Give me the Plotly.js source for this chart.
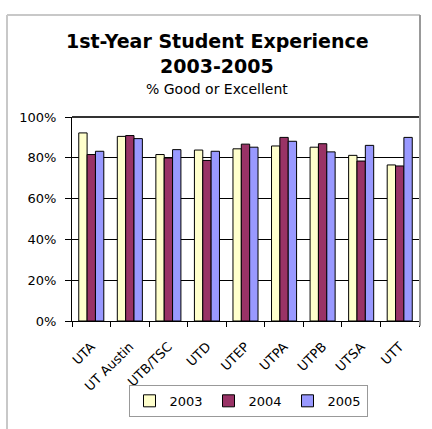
<!DOCTYPE html>
<html>
<head>
<meta charset="utf-8">
<script src="https://cdn.plot.ly/plotly-3.0.1.min.js"></script>
<style>
html,body{margin:0;padding:0;background:#fff;overflow:hidden;}
#chart{width:432px;height:429px;}
</style>
</head>
<body>
<div id="chart"></div>
<script>
const categories = ["UTA","UT Austin","UTB/TSC","UTD","UTEP","UTPA","UTPB","UTSA","UTT"];
const years = ["2003","2004","2005"];
const values2003 = [0.922,0.905,0.816,0.838,0.844,0.858,0.852,0.812,0.765];
const values2004 = [0.816,0.909,0.799,0.787,0.867,0.900,0.869,0.784,0.760];
const values2005 = [0.832,0.894,0.840,0.832,0.852,0.881,0.829,0.861,0.900];
const yTickVals = [0,0.2,0.4,0.6,0.8,1.0];
const yTickText = ["0%","20%","40%","60%","80%","100%"];
const colors = ["#FFFFCC","#993366","#9999FF"];

const font = "DejaVu Sans, Verdana, sans-serif";
const series = [values2003, values2004, values2005];
const traces = series.map((vals, i) => ({
  type: "bar",
  name: years[i],
  x: categories,
  y: vals,
  marker: {color: colors[i], line: {color: "#000", width: 1}},
  hoverinfo: "x+y"
}));

const L = 72, R = 13, T = 117, B = 98;
const W = 432 - L - R, H = 429 - T - B;
const px = x => (x - L) / W;
const py = y => (429 - B - y) / H;

const layout = {
  width: 432, height: 429,
  margin: {l: L, r: R, t: T, b: B, pad: 0},
  paper_bgcolor: "#fff",
  plot_bgcolor: "#fff",
  font: {family: font, size: 12, color: "#000"},
  bargap: 0.35,
  bargroupgap: 0,
  showlegend: true,
  legend: {
    orientation: "h",
    x: px(248), xanchor: "center",
    y: py(398), yanchor: "top",
    bordercolor: "#999", borderwidth: 1,
    font: {family: font, size: 13},
    traceorder: "normal",
    itemwidth: 30,
    entrywidth: 34
  },
  xaxis: {
    type: "category",
    tickangle: -45,
    tickson: "boundaries",
    ticks: "outside", ticklen: 5, tickcolor: "#000",
    showline: true, linecolor: "#000", linewidth: 1,
    showgrid: false,
    tickfont: {family: font, size: 13},
    ticklabelstandoff: 12
  },
  yaxis: {
    range: [0, 1],
    tickvals: yTickVals, ticktext: yTickText,
    ticks: "outside", ticklen: 6, tickcolor: "#000",
    showline: true, linecolor: "#000", linewidth: 1,
    showgrid: true, gridcolor: "#000", gridwidth: 1,
    zeroline: false,
    tickfont: {family: font, size: 13},
    ticklabelstandoff: 6
  },
  shapes: [
    {type: "line", xref: "paper", yref: "paper", x0: 0, x1: 1, y0: 1, y1: 1, line: {color: "#333", width: 2}},
    {type: "line", xref: "paper", yref: "paper", x0: px(7), x1: px(420), y0: py(10), y1: py(10), line: {color: "#c8c8c8", width: 2}},
    {type: "line", xref: "paper", yref: "paper", x0: px(7), x1: px(7), y0: py(10), y1: py(460), line: {color: "#c8c8c8", width: 2}},
    {type: "line", xref: "paper", yref: "paper", x0: px(420), x1: px(420), y0: py(10), y1: py(336), line: {color: "#999", width: 2}}
  ],
  annotations: [
    {text: "<b>1st-Year Student Experience</b>", xref: "paper", yref: "paper", x: px(217), y: py(37), xanchor: "center", yanchor: "middle", showarrow: false, font: {family: font, size: 19}},
    {text: "<b>2003-2005</b>", xref: "paper", yref: "paper", x: px(217), y: py(63), xanchor: "center", yanchor: "middle", showarrow: false, font: {family: font, size: 19}},
    {text: "% Good or Excellent", xref: "paper", yref: "paper", x: px(217), y: py(88), xanchor: "center", yanchor: "middle", showarrow: false, font: {family: font, size: 14}}
  ]
};

Plotly.newPlot("chart", traces, layout, {displayModeBar: false, staticPlot: true});
</script>
</body>
</html>
